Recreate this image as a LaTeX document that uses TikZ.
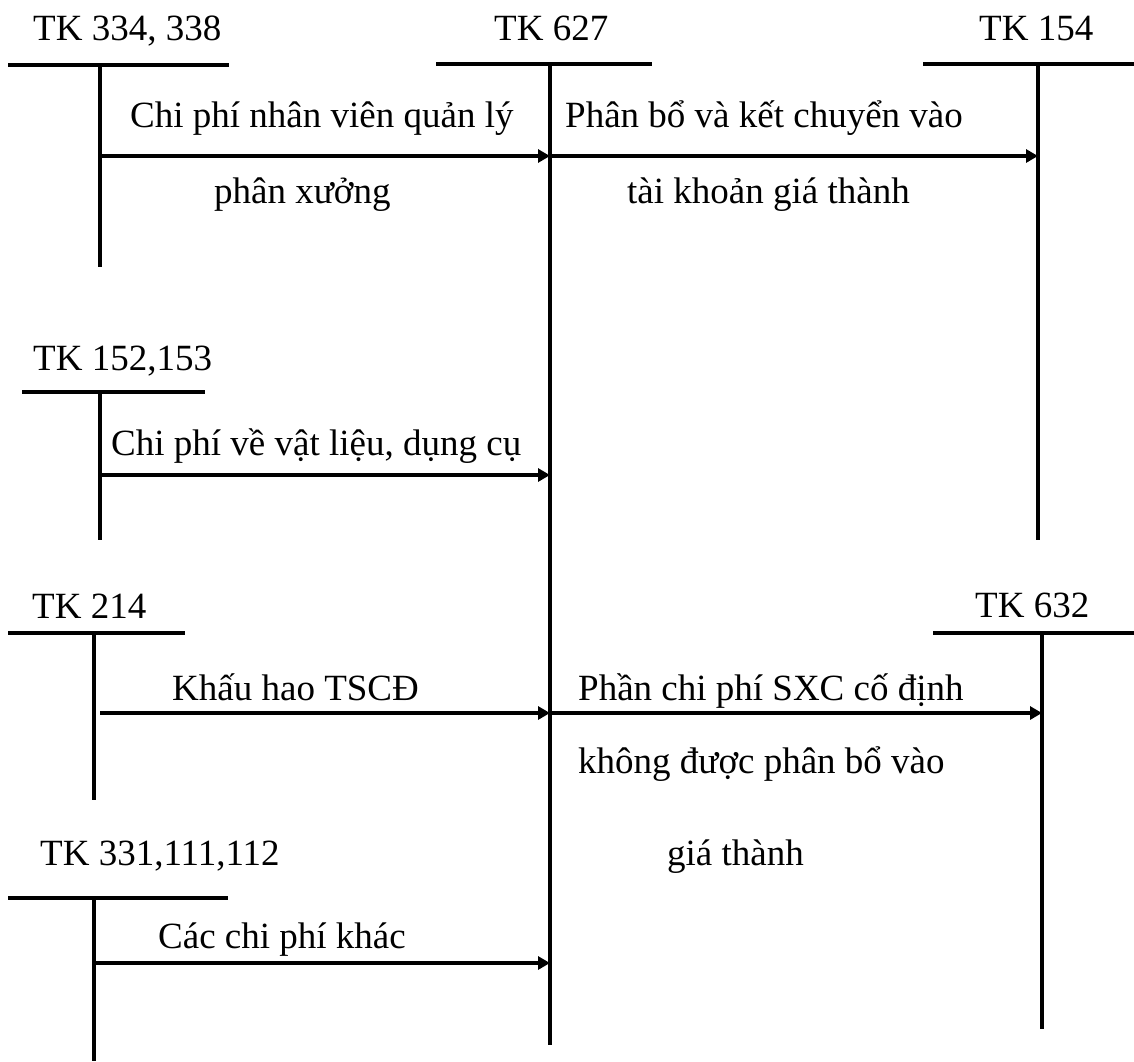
\documentclass[tikz,border=0pt]{standalone}
\usepackage{fontspec}
\setmainfont{Liberation Serif}
\usetikzlibrary{arrows.meta}
\tikzset{
  hbar/.style={line width=3.8pt},
  vbar/.style={line width=3.2pt},
  flow/.style={line width=3.5pt,-{Triangle[length=12pt,width=13pt]}},
  lbl/.style={anchor=base west,inner sep=0pt,font=\fontsize{37}{40}\selectfont},
}
\begin{document}
\begin{tikzpicture}[x=1pt,y=-1pt]
\useasboundingbox (0,0) rectangle (1134,1061);
% T-account coordinates
\coordinate (a1L) at (8,65);   \coordinate (a1R) at (229,65);
\coordinate (a1T) at (100,65); \coordinate (a1B) at (100,267);
\coordinate (m1L) at (436,64); \coordinate (m1R) at (652,64);
\coordinate (m1T) at (550,64); \coordinate (m1B) at (550,1045);
\coordinate (p1L) at (923,64); \coordinate (p1R) at (1134,64);
\coordinate (p1T) at (1038,64); \coordinate (p1B) at (1038,540);
\coordinate (a2L) at (22,392); \coordinate (a2R) at (205,392);
\coordinate (a2T) at (100,392); \coordinate (a2B) at (100,540);
\coordinate (a3L) at (8,633);  \coordinate (a3R) at (185,633);
\coordinate (a3T) at (94,633); \coordinate (a3B) at (94,800);
\coordinate (p2L) at (933,633); \coordinate (p2R) at (1134,633);
\coordinate (p2T) at (1042,633); \coordinate (p2B) at (1042,1029);
\coordinate (a4L) at (8,898);  \coordinate (a4R) at (228,898);
\coordinate (a4T) at (94,898); \coordinate (a4B) at (94,1061);
% T-accounts
\foreach \t in {a1,m1,p1,a2,a3,p2,a4}{
  \draw[hbar] (\t L) -- (\t R);
  \draw[vbar] (\t T) -- (\t B);
}
% arrow endpoints
\coordinate (s1) at (100,156); \coordinate (e1) at (550,156);
\coordinate (e2) at (1038,156);
\coordinate (s3) at (100,475); \coordinate (e3) at (550,475);
\coordinate (s4) at (100,713); \coordinate (e4) at (550,713);
\coordinate (e5) at (1042,713);
\coordinate (s6) at (94,963);  \coordinate (e6) at (550,963);
\draw[flow] (s1) -- (e1);
\draw[flow] (e1) -- (e2);
\draw[flow] (s3) -- (e3);
\draw[flow] (s4) -- (e4);
\draw[flow] (e4) -- (e5);
\draw[flow] (s6) -- (e6);
% labels
\node[lbl] (t1) at (33,40) {TK 334, 338};
\node[lbl] (t2) at (494,40) {TK 627};
\node[lbl] (t3) at (979,40) {TK 154};
\node[lbl] (l1) at (130,127) {Chi phí nhân viên quản lý};
\node[lbl] (l2) at (214,203) {phân xưởng};
\node[lbl] (l3) at (565,127) {Phân bổ và kết chuyển vào};
\node[lbl] (l4) at (627,203) {tài khoản giá thành};
\node[lbl] (t4) at (33,370) {TK 152,153};
\node[lbl] (l5) at (111,455) {Chi phí về vật liệu, dụng cụ};
\node[lbl] (t5) at (32,618) {TK 214};
\node[lbl] (t6) at (975,617) {TK 632};
\node[lbl] (l6) at (172,700) {Khấu hao TSCĐ};
\node[lbl] (l7) at (578,700) {Phần chi phí SXC cố định};
\node[lbl] (l8) at (578,773) {không được phân bổ vào};
\node[lbl] (t7) at (40,865) {TK 331,111,112};
\node[lbl] (l9) at (667,865) {giá thành};
\node[lbl] (l10) at (158,948) {Các chi phí khác};
\end{tikzpicture}
\end{document}
